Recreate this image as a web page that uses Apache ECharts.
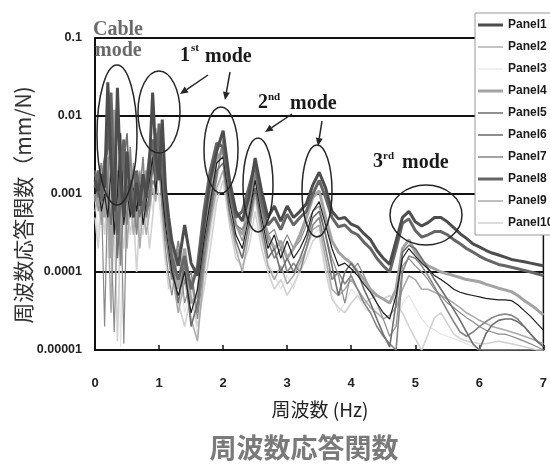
<!DOCTYPE html>
<html>
<head>
<meta charset="utf-8">
<script src="https://cdn.jsdelivr.net/npm/echarts@6/dist/echarts.min.js"></script>
<style>
  html, body { margin: 0; padding: 0; background: #fff; }
  #chart { width: 550px; height: 472px; }
</style>
</head>
<body>
<div id="chart"></div>
<script>
// Frequency grid (Hz)
const freq = [
  0, 0.05, 0.1, 0.15, 0.2, 0.25, 0.3, 0.35, 0.4, 0.45, 0.5, 0.55, 0.6, 0.65, 0.7, 0.75, 0.8, 0.85, 0.9, 0.95, 1.0, 1.05, 1.1, 1.15, 1.2,
  1.3, 1.4, 1.5, 1.6, 1.7, 1.8, 1.9, 2.0, 2.1, 2.2, 2.3, 2.4, 2.5, 2.6, 2.7, 2.8, 2.9, 3.0, 3.1, 3.2, 3.3, 3.4, 3.5, 3.6, 3.7, 3.8, 3.9, 4.0,
  4.1, 4.2, 4.3, 4.4, 4.5, 4.6, 4.7, 4.8, 4.9, 5.0, 5.1, 5.2, 5.3, 5.4, 5.5, 5.6, 5.7, 5.8, 5.9, 6.0, 6.1, 6.2, 6.3, 6.4, 6.5, 6.6, 6.7, 6.8, 6.9, 7.0
];

// Frequency response amplitude (mm/N) for each panel
const panel1 = [
  1.5e-3, 1.1e-3, 1.8e-3, 1.2e-3, 2.7e-2, 2.5e-3, 6e-4, 2.3e-2, 1.5e-3, 5e-4, 3.5e-3, 9e-4, 5e-4, 1.4e-3, 7e-4, 1.8e-3, 9e-4, 2.5e-3, 2e-2, 3e-3, 1.5e-3, 9e-3, 1.2e-3, 5e-4, 2.5e-4,
  1.2e-4, 4e-4, 1.3e-4, 9e-5, 4e-4, 1.5e-3, 3.5e-3, 6.5e-3, 1.5e-3, 6e-4, 4.5e-4, 9e-4, 2.9e-3, 1.1e-3, 5e-4, 7e-4, 4.5e-4, 7e-4, 5e-4, 6e-4, 7.5e-4, 1.3e-3, 1.9e-3, 1.2e-3, 6e-4, 4.8e-4, 5e-4, 4.1e-4,
  3.8e-4, 3.1e-4, 2.6e-4, 1.9e-4, 1.5e-4, 1.25e-4, 2.5e-4, 5e-4, 6e-4, 4.4e-4, 3.9e-4, 4.3e-4, 5e-4, 5e-4, 4.4e-4, 3.7e-4, 3.1e-4, 2.7e-4, 2.3e-4, 2.1e-4, 1.9e-4, 1.75e-4, 1.65e-4, 1.55e-4, 1.45e-4, 1.4e-4, 1.35e-4, 1.3e-4, 1.25e-4, 1.2e-4
];
const panel2 = [
  1.8e-3, 6e-4, 1e-3, 2e-5, 1.2e-3, 3e-4, 1.7e-5, 5e-4, 1.5e-3, 1.2e-5, 1e-3, 6e-4, 2.5e-3, 5e-4, 2e-3, 6e-4, 1.5e-3, 7e-4, 2e-3, 7e-3, 2e-3, 6e-4, 2e-4, 9e-5, 5e-5,
  2e-4, 4e-5, 8e-5, 2.5e-5, 1.2e-4, 7e-4, 2.5e-3, 4.5e-3, 1e-3, 4e-4, 2.5e-4, 6e-4, 2.2e-3, 6e-4, 3e-4, 3.5e-4, 2e-4, 3e-4, 2e-4, 2.5e-4, 4e-4, 6e-4, 7e-4, 3e-4, 1.5e-4, 9e-5, 4e-5, 1e-4,
  1.3e-4, 9e-5, 6e-5, 4e-5, 2.5e-5, 1.5e-5, 2e-5, 1.2e-4, 1.5e-4, 1.2e-4, 1e-4, 8e-5, 6e-5, 5e-5, 4e-5, 3.5e-5, 3e-5, 2.6e-5, 2.3e-5, 2e-5, 1.8e-5, 1.7e-5, 1.6e-5, 1.6e-5, 1.5e-5, 1.4e-5, 1.3e-5, 1.2e-5, 1.1e-5, 1e-5
];
const panel3 = [
  9e-4, 3e-4, 1.5e-3, 6e-4, 1.5e-4, 1.2e-3, 2e-4, 2e-3, 1.1e-5, 9e-4, 2e-4, 1.5e-3, 4e-4, 1e-3, 2.5e-4, 1e-3, 4e-4, 1.2e-3, 6e-4, 2e-3, 8e-4, 3e-4, 1.2e-4, 2e-4, 6e-5,
  1.5e-4, 3e-5, 6e-5, 1.5e-5, 8e-5, 3e-4, 1e-3, 2e-3, 5e-4, 2e-4, 1.5e-4, 3e-4, 8e-4, 2.5e-4, 1.3e-4, 9e-5, 6e-5, 9e-5, 6e-5, 1.2e-4, 2e-4, 3e-4, 3.5e-4, 1.2e-4, 5e-5, 3e-5, 4e-5, 6e-5,
  5e-5, 3.5e-5, 3e-5, 3.5e-5, 3e-5, 2.5e-5, 2e-5, 4e-5, 5e-5, 3.5e-5, 2.5e-5, 2e-5, 1.8e-5, 1.6e-5, 1.5e-5, 1.4e-5, 1.3e-5, 1.2e-5, 1.1e-5, 1e-5, 1e-5, 1e-5, 1e-5, 1e-5, 1e-5, 1e-5, 1e-5, 1e-5, 1e-5, 1e-5
];
const panel4 = [
  1e-3, 7e-4, 1.5e-3, 5e-4, 3e-3, 1.5e-4, 1.2e-2, 8e-4, 3e-4, 2e-3, 6e-4, 2.5e-3, 1e-3, 4e-4, 1.5e-3, 8e-4, 2e-3, 1.2e-3, 4e-3, 2e-3, 5e-3, 1.5e-3, 6e-4, 4e-4, 2e-4,
  6e-5, 2e-4, 4e-5, 5e-5, 3e-4, 1e-3, 3e-3, 3.5e-3, 1e-3, 4e-4, 3e-4, 7e-4, 2e-3, 6e-4, 3e-4, 2e-4, 2.5e-4, 1.5e-4, 2e-4, 3e-4, 5e-4, 9e-4, 1.1e-3, 5e-4, 2.5e-4, 1.8e-4, 1.5e-4, 1.3e-4,
  1e-4, 8e-5, 6e-5, 5e-5, 4.5e-5, 4e-5, 6e-5, 2e-4, 2.6e-4, 1.8e-4, 1.4e-4, 1.2e-4, 1.1e-4, 1e-4, 9.5e-5, 9e-5, 8.5e-5, 8e-5, 7.8e-5, 7.5e-5, 7e-5, 6.6e-5, 6.2e-5, 5.9e-5, 5.6e-5, 5e-5, 4.3e-5, 3.8e-5, 3.3e-5, 2.8e-5
];
const panel5 = [
  2e-3, 9e-4, 1.2e-3, 3e-3, 1e-3, 4e-4, 3e-3, 1.5e-4, 8e-4, 2.5e-3, 6e-3, 7e-4, 2e-3, 9e-4, 5e-4, 1.5e-3, 6e-4, 1e-3, 2.5e-3, 6e-3, 2.5e-3, 1.2e-3, 5e-4, 3e-4, 1.3e-4,
  4e-5, 1.3e-4, 2e-5, 4e-5, 2e-4, 6e-4, 2e-3, 2.5e-3, 6e-4, 2.5e-4, 1.5e-4, 4e-4, 1.2e-3, 4e-4, 1.5e-4, 2e-4, 1e-4, 1.5e-4, 1e-4, 1.5e-4, 2.5e-4, 5e-4, 6e-4, 3e-4, 1.2e-4, 5e-5, 1e-4, 1.3e-4,
  1e-4, 6e-5, 4e-5, 2.5e-5, 1.6e-5, 1.1e-5, 4e-5, 1.8e-4, 2.2e-4, 2e-4, 1.5e-4, 1.1e-4, 8e-5, 6e-5, 4.5e-5, 3.3e-5, 2.4e-5, 1.7e-5, 1.2e-5, 1e-5, 1.6e-5, 2.1e-5, 2.4e-5, 2.5e-5, 2.5e-5, 2.3e-5, 2e-5, 1.6e-5, 1.3e-5, 1.1e-5
];
const panel6 = [
  1e-3, 1.3e-3, 6e-4, 1e-3, 5e-4, 2e-3, 3e-4, 1e-3, 6e-3, 4e-4, 1.2e-3, 5e-4, 1.2e-3, 6e-4, 1.3e-3, 4e-4, 8e-4, 1.5e-3, 3e-3, 1e-3, 4e-3, 1e-3, 4e-4, 2e-4, 1e-4,
  5e-5, 1e-4, 3e-5, 6e-5, 2.5e-4, 8e-4, 2.5e-3, 3e-3, 8e-4, 3e-4, 2e-4, 5e-4, 1.5e-3, 5e-4, 2e-4, 3e-4, 1.5e-4, 2.5e-4, 1.5e-4, 2e-4, 3e-4, 6e-4, 8e-4, 4e-4, 2e-4, 1.2e-4, 1.3e-4, 1.1e-4,
  9e-5, 7e-5, 5.5e-5, 4e-5, 3e-5, 2.5e-5, 5e-5, 1.5e-4, 2e-4, 1.6e-4, 1.3e-4, 1.1e-4, 9e-5, 8e-5, 7e-5, 6e-5, 5.5e-5, 5.2e-5, 5e-5, 4.8e-5, 4.6e-5, 4.5e-5, 4.4e-5, 4.4e-5, 4.3e-5, 3.8e-5, 3.2e-5, 2.7e-5, 2.2e-5, 1.8e-5
];
const panel7 = [
  8e-4, 1.5e-3, 2.5e-3, 8e-4, 1.5e-3, 8e-3, 4e-4, 2e-3, 1.2e-4, 1e-3, 4e-4, 4e-3, 8e-4, 3e-4, 1e-3, 3e-3, 5e-4, 8e-4, 1.5e-3, 1.2e-3, 6e-3, 8e-4, 3e-4, 1.5e-4, 8e-5,
  2.5e-4, 7e-5, 1e-4, 3e-5, 1.5e-4, 5e-4, 1.6e-3, 5e-3, 1e-3, 4e-4, 3.5e-4, 5e-4, 1.8e-3, 7e-4, 2.5e-4, 1.5e-4, 2e-4, 1e-4, 1.3e-4, 1e-4, 2e-4, 4e-4, 5e-4, 2e-4, 8e-5, 1e-4, 7e-5, 9e-5,
  6e-5, 4e-5, 3e-5, 2e-5, 1.5e-5, 1.2e-5, 1e-5, 1e-4, 1.6e-4, 1.5e-4, 1.2e-4, 9e-5, 6.5e-5, 4.5e-5, 3.2e-5, 2.3e-5, 1.7e-5, 1.5e-5, 1.7e-5, 2e-5, 2.3e-5, 2.6e-5, 2.8e-5, 2.9e-5, 2.8e-5, 2.5e-5, 2e-5, 1.6e-5, 1.3e-5, 1.1e-5
];
const panel8 = [
  1.2e-3, 2e-3, 8e-4, 2.5e-3, 4e-3, 2e-2, 1e-3, 3e-4, 1.8e-3, 5e-3, 8e-4, 1.5e-3, 7e-4, 2e-3, 1e-3, 6e-4, 1.3e-3, 3e-3, 5e-3, 1.5e-3, 8e-3, 2e-3, 8e-4, 3e-4, 1.5e-4,
  8e-5, 1.6e-4, 6e-5, 1.2e-4, 6e-4, 2e-3, 4.5e-3, 4e-3, 1.2e-3, 5e-4, 6e-4, 1.2e-3, 2.4e-3, 8e-4, 4e-4, 5e-4, 3.5e-4, 5.5e-4, 4e-4, 5e-4, 6e-4, 1e-3, 1.5e-3, 9e-4, 5e-4, 3.8e-4, 4e-4, 3.3e-4,
  3e-4, 2.4e-4, 2e-4, 1.5e-4, 1.2e-4, 1e-4, 2e-4, 4.2e-4, 4.8e-4, 3.4e-4, 2.8e-4, 3e-4, 3.3e-4, 3.3e-4, 3e-4, 2.6e-4, 2.3e-4, 2e-4, 1.8e-4, 1.6e-4, 1.45e-4, 1.35e-4, 1.25e-4, 1.2e-4, 1.15e-4, 1.1e-4, 1.05e-4, 1e-4, 9.5e-5, 9e-5
];
const panel9 = [
  6e-4, 1e-3, 4e-4, 2e-3, 6e-4, 3e-5, 8e-4, 1.5e-3, 2e-4, 3e-3, 2e-4, 1e-3, 3e-4, 8e-4, 2e-4, 7e-4, 3e-4, 6e-4, 1.2e-3, 8e-4, 3e-3, 7e-4, 2.5e-4, 3e-4, 1e-4,
  3e-5, 8e-5, 2.5e-5, 1.3e-5, 1e-4, 4e-4, 1.2e-3, 2e-3, 5e-4, 2e-4, 1e-4, 3e-4, 1e-3, 3e-4, 1.2e-4, 8e-5, 1.2e-4, 7e-5, 9e-5, 1.3e-4, 2e-4, 3.5e-4, 4e-4, 1.5e-4, 6e-5, 5e-5, 6e-5, 8e-5,
  6e-5, 4.5e-5, 3.5e-5, 3e-5, 2.5e-5, 2.8e-5, 3.5e-5, 6e-5, 9e-5, 8e-5, 6e-5, 6e-5, 5.5e-5, 5e-5, 4.5e-5, 4e-5, 3.5e-5, 3e-5, 2.7e-5, 2.4e-5, 2.2e-5, 2e-5, 1.9e-5, 1.8e-5, 1.7e-5, 1.6e-5, 1.5e-5, 1.4e-5, 1.3e-5, 1.2e-5
];
const panel10 = [
  5e-4, 2e-4, 8e-4, 3e-4, 1e-3, 2e-4, 5e-4, 1.3e-5, 4e-4, 2e-4, 8e-4, 3e-4, 6e-4, 1e-4, 5e-4, 3e-4, 7e-4, 2e-4, 5e-4, 1.5e-3, 1e-3, 4e-4, 1.5e-4, 6e-5, 1e-4,
  4e-5, 2e-5, 5e-5, 2e-5, 6e-5, 2e-4, 8e-4, 1.5e-3, 4e-4, 1.5e-4, 1.2e-4, 2e-4, 6e-4, 2e-4, 1e-4, 6e-5, 8e-5, 5e-5, 7e-5, 1e-4, 1.5e-4, 2.5e-4, 3e-4, 1e-4, 4.5e-5, 3.5e-5, 3e-5, 4e-5,
  5e-5, 4e-5, 4.5e-5, 5e-5, 4.5e-5, 5e-5, 4e-5, 3e-5, 2e-5, 1.4e-5, 1e-5, 1.6e-5, 2.6e-5, 3e-5, 2.2e-5, 1.6e-5, 1.4e-5, 1.3e-5, 1.25e-5, 1.2e-5, 1.2e-5, 1.25e-5, 1.3e-5, 1.25e-5, 1.2e-5, 1.15e-5, 1.1e-5, 1.05e-5, 1e-5, 1e-5
];

const panelNames = ['Panel1', 'Panel2', 'Panel3', 'Panel4', 'Panel5', 'Panel6', 'Panel7', 'Panel8', 'Panel9', 'Panel10'];
const panelValues = [panel1, panel2, panel3, panel4, panel5, panel6, panel7, panel8, panel9, panel10];
const yTickLabels = ['0.00001', '0.0001', '0.001', '0.01', '0.1'];

// Line look per panel: grey level, width, stacking order
const panelStyles = [
  { color: '#4d4d4d', width: 3,   z: 12 },
  { color: '#8a8a8a', width: 1.2, z: 5 },
  { color: '#e4e4e4', width: 1.2, z: 2 },
  { color: '#a3a3a3', width: 3,   z: 6 },
  { color: '#6e6e6e', width: 1.6, z: 8 },
  { color: '#1e1e1e', width: 1.2, z: 9 },
  { color: '#858585', width: 1.6, z: 7 },
  { color: '#666666', width: 3,   z: 11 },
  { color: '#ababab', width: 1.6, z: 4 },
  { color: '#d2d2d2', width: 1.6, z: 3 }
];

const narrow = "'Liberation Sans Narrow', 'Liberation Sans', Arial, sans-serif";
const cjk = "'Noto Sans CJK JP', 'Noto Sans CJK SC', sans-serif";
const serif = "'Liberation Serif', 'DejaVu Serif', serif";

// Legend key: a plain horizontal stroke of the series' thickness inside a 25x14 box
function strokeIcon(t) {
  const top = 7 - t / 2;
  return 'path://M0,0 h0.01 v0.01 z M0,' + top + ' h25 v' + t + ' h-25 z M0,14 h0.01 v-0.01 z';
}

const series = panelNames.map((name, k) => ({
  name: name,
  type: 'line',
  data: freq.map((f, i) => [f, panelValues[k][i]]),
  showSymbol: false,
  symbol: 'none',
  clip: true,
  z: panelStyles[k].z,
  lineStyle: { color: panelStyles[k].color, width: panelStyles[k].width },
  itemStyle: { color: panelStyles[k].color },
  emphasis: { disabled: true },
  animation: false
}));

// Annotation helpers
function ellipse(cx, cy, rx, ry) {
  return { type: 'ellipse', z: 50, shape: { cx, cy, rx, ry },
           style: { fill: 'none', stroke: '#262626', lineWidth: 1.5 } };
}
function arrow(x1, y1, x2, y2) {
  const a = Math.atan2(y2 - y1, x2 - x1), L = 8, W = 3.5;
  const bx = x2 - L * Math.cos(a), by = y2 - L * Math.sin(a);
  return [
    { type: 'line', z: 50, shape: { x1, y1, x2: bx, y2: by }, style: { stroke: '#262626', lineWidth: 1.5 } },
    { type: 'polygon', z: 50, shape: { points: [[x2, y2], [bx + W * Math.sin(a), by - W * Math.cos(a)], [bx - W * Math.sin(a), by + W * Math.cos(a)]] },
      style: { fill: '#262626' } }
  ];
}
function label(text, x, y, size, opts) {
  opts = opts || {};
  return { type: 'text', z: 50, x, y,
    style: { text, font: (opts.weight || 'bold') + ' ' + size + 'px ' + (opts.family || serif),
             fill: opts.fill || '#1a1a1a', textAlign: opts.align || 'left', textVerticalAlign: 'middle' } };
}

const graphics = [
  ellipse(117, 135, 20, 70),
  ellipse(159, 112, 21, 41),
  ellipse(221, 150, 17, 43),
  ellipse(258, 185, 15, 47),
  ellipse(317, 191, 15, 46),
  ellipse(426, 215, 36, 30),
  ...arrow(208, 75, 180, 94),
  ...arrow(230, 72, 225, 100),
  ...arrow(292, 114, 265, 132),
  ...arrow(322, 121, 318, 146),
  label('Cable', 93, 30, 20, { fill: '#6a6a6a' }),
  label('mode', 95, 51, 20, { fill: '#6a6a6a' }),
  label('1', 180, 56, 20),
  label('st', 191, 48, 11),
  label('mode', 205, 57, 20),
  label('2', 258, 103, 20),
  label('nd', 268, 97, 11),
  label('mode', 290, 104, 20),
  label('3', 373, 162, 20),
  label('rd', 383, 156, 11),
  label('mode', 402, 163, 20),
  // axis names and caption
  { type: 'text', z: 50, x: 23, y: 205, rotation: Math.PI / 2,
    style: { text: '周波数応答関数（mm/N)', font: 'normal 21px ' + cjk, fill: '#333', textAlign: 'center', textVerticalAlign: 'middle' } },
  label('周波数 (Hz)', 320, 410, 19, { family: cjk, weight: 'normal', fill: '#222', align: 'center' }),
  label('周波数応答関数', 304, 448, 27, { family: cjk, weight: 'bold', fill: '#7a7a7a', align: 'center' })
];

const chart = echarts.init(document.getElementById('chart'), null, { renderer: 'canvas' });
chart.setOption({
  animation: false,
  backgroundColor: '#fff',
  grid: { left: 95, right: 5, top: 38, bottom: 122, show: true, borderColor: '#111', borderWidth: 1.5, backgroundColor: 'transparent' },
  legend: {
    data: panelNames.map((name, k) => ({ name: name, icon: strokeIcon(panelStyles[k].width) })),
    orient: 'vertical',
    left: 475, top: 13,
    padding: [5, 2, 5, 3],
    itemGap: 8, itemWidth: 25, itemHeight: 14,
    backgroundColor: '#fff', borderColor: '#9a9a9a', borderWidth: 1,
    textStyle: { fontFamily: narrow, fontWeight: 'bold', fontSize: 12, color: '#1a1a1a' },
    selectedMode: false
  },
  xAxis: {
    type: 'value', min: 0, max: 7, interval: 1,
    axisLine: { show: true, lineStyle: { color: '#111', width: 2 } },
    axisTick: { show: true, inside: true, length: 5, lineStyle: { color: '#111', width: 1.5 } },
    axisLabel: { margin: 27, fontFamily: narrow, fontWeight: 'bold', fontSize: 13, color: '#222' },
    splitLine: { show: false }
  },
  yAxis: {
    type: 'log', logBase: 10, min: 1e-5, max: 0.1,
    axisLine: { show: true, lineStyle: { color: '#111', width: 2 } },
    axisTick: { show: false },
    axisLabel: {
      margin: 13, fontFamily: narrow, fontWeight: 'bold', fontSize: 12.5, color: '#222',
      formatter: v => yTickLabels[Math.round(Math.log10(v)) + 5]
    },
    splitLine: { show: true, lineStyle: { color: '#111', width: 2 } }
  },
  series: series,
  graphic: graphics
});
</script>
</body>
</html>
